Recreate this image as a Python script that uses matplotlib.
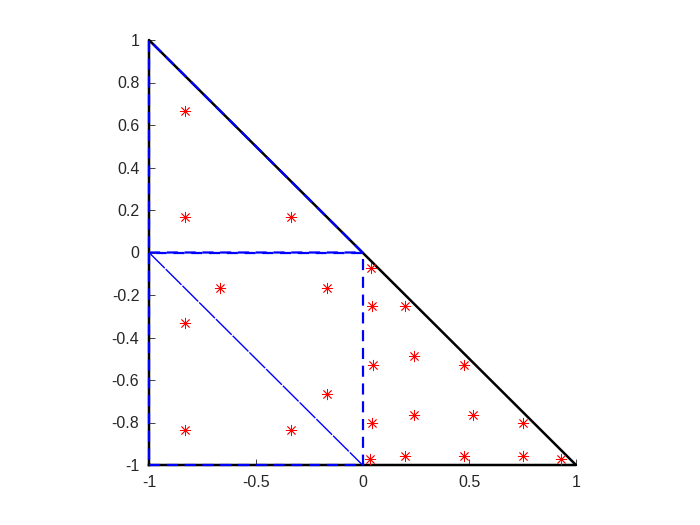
import numpy as np
import matplotlib.pyplot as plt

# triangle vertices
tri_x = [-1, 1, -1, -1]
tri_y = [-1, -1, 1, -1]

# sub-element edges (dashed blue)
upper_x = [-1, 0, -1, -1]
upper_y = [0, 0, 1, 0]
square_x = [-1, 0, 0, -1, -1]
square_y = [-1, -1, 0, 0, -1]
diag_x = [-1, 0]
diag_y = [0, -1]

# quadrature points
pts_x = [-5/6, -5/6, -1/3,
         -2/3, -1/6, -5/6, -1/6, -5/6, -1/3,
         0.038, 0.044, 0.200, 0.051, 0.243, 0.475,
         0.044, 0.243, 0.519, 0.750,
         0.035, 0.200, 0.475, 0.750, 0.932]
pts_y = [2/3, 1/6, 1/6,
         -1/6, -1/6, -1/3, -2/3, -5/6, -5/6,
         -0.074, -0.252, -0.252, -0.529, -0.487, -0.529,
         -0.800, -0.765, -0.765, -0.800,
         -0.972, -0.958, -0.958, -0.958, -0.972]

fig = plt.figure(figsize=(7, 5.25), dpi=100)
ax = fig.add_axes([149/700, 1 - 465/525, (576 - 149)/700, (465 - 40)/525])

ax.plot(tri_x, tri_y, color='black', lw=1.8, zorder=3, clip_on=False)
ax.plot(upper_x, upper_y, color='blue', lw=1.6, ls=(0, (5, 3)), zorder=4,
        clip_on=False)
ax.plot(square_x, square_y, color='blue', lw=1.6, ls=(0, (5, 3)), zorder=4,
        clip_on=False)
ax.plot(diag_x, diag_y, color='blue', lw=1.0, ls=(0, (16, 1)), zorder=4)
ax.plot(pts_x, pts_y, ls='none', marker=(8, 2, 0), color='red',
        markersize=8, markeredgewidth=0.6, zorder=5)

ax.set_xlim(-1, 1)
ax.set_ylim(-1, 1)
ax.set_xticks([-1, -0.5, 0, 0.5, 1])
ax.set_xticklabels(['-1', '-0.5', '0', '0.5', '1'])
ax.set_yticks(np.round(np.arange(-1, 1.01, 0.2), 1))
ax.set_yticklabels(['-1', '-0.8', '-0.6', '-0.4', '-0.2', '0',
                    '0.2', '0.4', '0.6', '0.8', '1'])
ax.spines['top'].set_visible(False)
ax.spines['right'].set_visible(False)
for s in ['left', 'bottom']:
    ax.spines[s].set_color('#262626')
    ax.spines[s].set_linewidth(0.6)
ax.tick_params(direction='in', length=4, width=0.6, colors='#262626',
               labelsize=11.5, pad=7)
for lab in ax.get_xticklabels() + ax.get_yticklabels():
    lab.set_fontfamily('Liberation Sans')

fig.savefig('out.png', dpi=100)
